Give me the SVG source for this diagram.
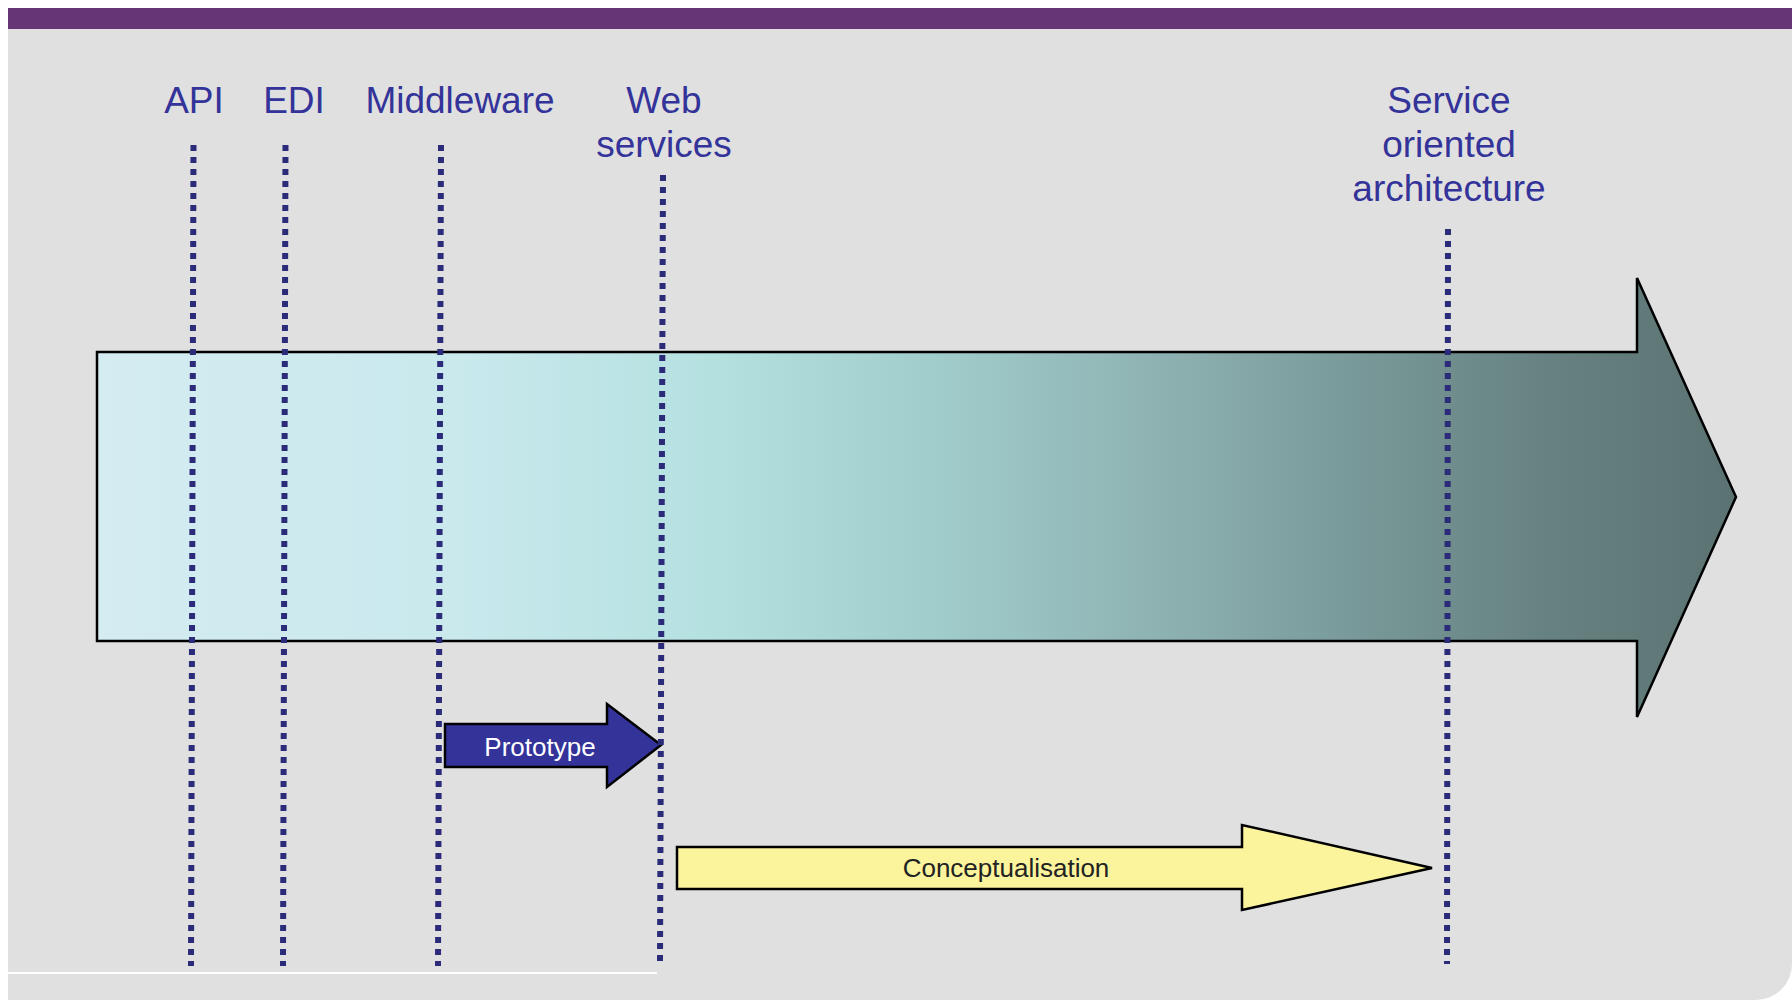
<svg xmlns="http://www.w3.org/2000/svg" width="1792" height="1000" viewBox="0 0 1792 1000">
  <defs>
    <linearGradient id="bigGrad" gradientUnits="userSpaceOnUse" x1="97" y1="0" x2="1736" y2="0">
      <stop offset="0" stop-color="#d4ecf2"/>
      <stop offset="0.22" stop-color="#c9e9ed"/>
      <stop offset="0.38" stop-color="#b4e0e0"/>
      <stop offset="0.52" stop-color="#a0cbcb"/>
      <stop offset="0.64" stop-color="#8fb3b3"/>
      <stop offset="0.78" stop-color="#779797"/>
      <stop offset="0.88" stop-color="#678282"/>
      <stop offset="1" stop-color="#5b7272"/>
    </linearGradient>
    <style>
      .lbl { font-family: "Liberation Sans", Arial, sans-serif; font-size: 37px; fill: #333399; text-anchor: middle; }
      .guide { stroke: #2b2b7a; stroke-width: 6; stroke-dasharray: 6 6; fill: none; }
      .shape { stroke: #000; stroke-width: 2.5; stroke-linejoin: miter; }
      .small { font-family: "Liberation Sans", Arial, sans-serif; font-size: 26px; text-anchor: middle; }
    </style>
  </defs>

  <rect x="0" y="0" width="1792" height="1000" fill="#ffffff"/>
  <path d="M8,29 H1792 V964 A36,36 0 0 1 1756,1000 H8 Z" fill="#e0e0e0"/>
  <rect x="8" y="8" width="1784" height="21" fill="#663575"/>
  <line x1="8" y1="973" x2="657" y2="973" stroke="#ffffff" stroke-width="2"/>

  <g id="labels">
    <text class="lbl" x="194" y="113">API</text>
    <text class="lbl" x="294" y="113">EDI</text>
    <text class="lbl" x="460" y="113">Middleware</text>
    <text class="lbl" x="664" y="113">Web</text>
    <text class="lbl" x="664" y="157">services</text>
    <text class="lbl" x="1449" y="113">Service</text>
    <text class="lbl" x="1449" y="157">oriented</text>
    <text class="lbl" x="1449" y="201">architecture</text>
  </g>

  <g id="evolution-arrow">
    <path class="shape" fill="url(#bigGrad)" d="M97,352 H1637 V278 L1736,497 L1637,717 V641 H97 Z"/>
  </g>

  <g id="prototype">
    <path class="shape" fill="#333399" d="M445,724 H607 V704 L661,745 L607,787 V767 H445 Z"/>
    <text class="small" x="540" y="756" fill="#ffffff">Prototype</text>
  </g>

  <g id="conceptualisation">
    <path class="shape" fill="#fbf49c" d="M677,847 H1242 V825 L1432,868 L1242,910 V889 H677 Z"/>
    <text class="small" x="1006" y="877" fill="#222222">Conceptualisation</text>
  </g>

  <g id="connectors">
    <line class="guide" x1="193.5" y1="145" x2="191" y2="966"/>
    <line class="guide" x1="285.5" y1="145" x2="283" y2="966"/>
    <line class="guide" x1="441" y1="145" x2="438" y2="966"/>
    <line class="guide" x1="663" y1="175" x2="660" y2="964"/>
    <line class="guide" x1="1448" y1="229" x2="1447" y2="964"/>
  </g>
</svg>
